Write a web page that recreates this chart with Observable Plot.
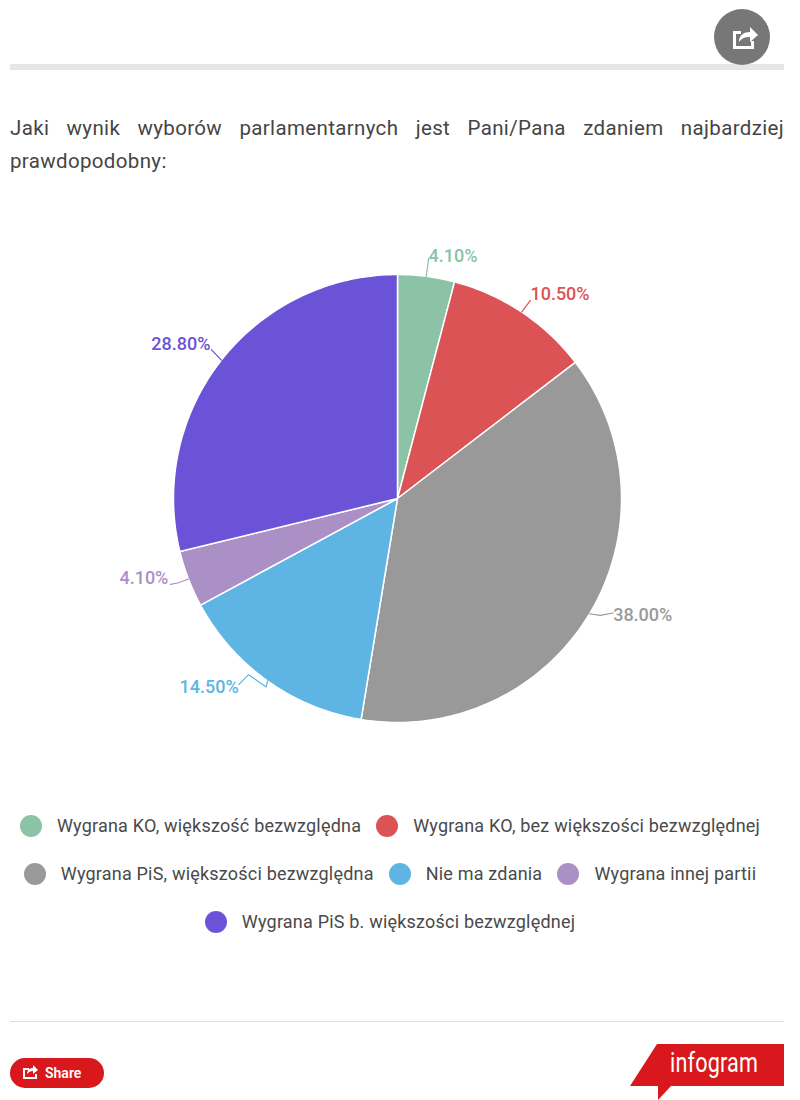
<!DOCTYPE html>
<html lang="pl">
<head>
<meta charset="utf-8">
<script src="https://cdn.jsdelivr.net/npm/d3@7"></script>
<script src="https://cdn.jsdelivr.net/npm/@observablehq/plot@0.6"></script>
<style>
html,body{margin:0;padding:0;background:#fff;}
body{width:800px;height:1100px;position:relative;overflow:hidden;font-family:Roboto,sans-serif;color:#444;}
.abs{position:absolute;}
#title{left:10px;top:112px;width:774px;font-size:20.5px;line-height:33px;text-align:justify;letter-spacing:.35px;color:#454545;}
#chart{left:0;top:190px;}
#chart svg{display:block;overflow:visible;}
.row{position:absolute;left:0;width:780px;height:24px;display:flex;justify-content:center;gap:15px;font-size:18px;letter-spacing:.2px;line-height:24px;color:#4a4a4a;white-space:nowrap;}
.item{display:flex;align-items:center;gap:15px;}
.swatch{width:22px;height:22px;border-radius:50%;flex:none;}
#logo{left:630px;top:1044px;width:154px;height:56px;background:#d8181c;clip-path:polygon(27px 0,154px 0,154px 42px,41px 42px,28px 56px,28px 42px,0 42px);}
#logoText{left:670px;top:1047px;color:#fff;font:400 27px Roboto,sans-serif;transform:scaleX(.8);transform-origin:left top;letter-spacing:.2px;}
#share{left:10px;top:1058px;width:94px;height:30px;border-radius:15px;background:#d8181c;color:#fff;font:600 14px/30px Roboto,sans-serif;}
</style>
</head>
<body>
<div class="abs" style="left:10px;top:64px;width:774px;height:6px;background:#e6e6e6"></div>
<div class="abs" style="left:714px;top:9px;width:56px;height:56px;border-radius:50%;background:#777">
  <svg width="56" height="56" viewBox="0 0 56 56"><path d="M19 22h8v3h-5v12h15v-5h3v8H19z" fill="#fff"/><path d="M25 33c0-7 5-10 11-10v-5l8 8-8 7v-5c-5 0-8 1-11 5z" fill="#fff"/></svg>
</div>
<div id="title" class="abs">Jaki wynik wyborów parlamentarnych jest Pani/Pana zdaniem najbardziej prawdopodobny:</div>
<div id="chart" class="abs"></div>
<div id="legend"></div>
<div class="abs" style="left:10px;top:1021px;width:774px;height:1px;background:#ddd"></div>
<div id="share" class="abs">
  <svg class="abs" style="left:11px;top:5px" width="18" height="18" viewBox="0 0 18 18"><path d="M2 5h6v2H4v7h10v-3h2v5H2z" fill="#fff"/><path d="M6 11c0-4 3-6 6-6V2l5 5-5 4V8c-3 0-4 1-6 3z" fill="#fff"/></svg>
  <span class="abs" style="left:35px">Share</span>
</div>
<div id="logo" class="abs"></div>
<div id="logoText" class="abs">infogram</div>
<script>
const names = ["Wygrana KO, większość bezwzględna","Wygrana KO, bez większości bezwzględnej","Wygrana PiS, większości bezwzględna","Nie ma zdania","Wygrana innej partii","Wygrana PiS b. większości bezwzględnej"];
const shares = [4.1,10.5,38.0,14.5,4.1,28.8];
const labels = ["4.10%","10.50%","38.00%","14.50%","4.10%","28.80%"];
const colors = ["#8cc3a6","#dc5356","#999999","#5eb5e4","#ab90c6","#6b53d8"];
const legendRows = [[0,1],[2,3,4],[5]];

// leader shape per slice: [degrees off the slice's middle, distance in pie radii]
const leaderKnots = [
  [[0,1],[0,1.08]],
  [[0,1],[0.2,1.065]],
  [[0,1],[-1,1.045],[-3,1.09]],
  [[0,1],[-0.6,1.025],[4.75,1.03],[5,1.092]],
  [[0,1],[0,1.047],[0.35,1.084]],
  [[0,1],[0.5,1.064]]
];
const labelAnchor = ["start","start","start","end","end","end"];
const labelNudge = [[0,-2],[0,-6],[0,2],[0,3],[-2,-6],[-1,-5]];

const R = 224, W = 800, H = 600, CX = 397, CY = 308;
const polar = (deg, r) => ({x: r*Math.sin(deg*Math.PI/180), y: r*Math.cos(deg*Math.PI/180)});

const cum = d3.cumsum(shares);
const slices = [], leaders = [], tips = [];
names.forEach((name,i)=>{
  const a0 = (cum[i]-shares[i])*3.6, a1 = cum[i]*3.6, mid = (a0+a1)/2;
  slices.push({name, ...polar(0,0)});
  const n = Math.max(2, Math.ceil(a1-a0));
  for (let k=0;k<=n;k++) slices.push({name, ...polar(a0+(a1-a0)*k/n,1)});
  slices.push({name, ...polar(0,0)});
  leaderKnots[i].forEach(([d,r])=>leaders.push({name, ...polar(mid+d,r)}));
  const [ld,lr] = leaderKnots[i][leaderKnots[i].length-1];
  tips.push({name, label:labels[i], ...polar(mid+ld,lr)});
});

const marks = [
  Plot.line(slices,{x:"x",y:"y",z:"name",fill:"name",stroke:"#fff",strokeWidth:1.5,strokeLinejoin:"round"}),
  Plot.line(leaders,{x:"x",y:"y",z:"name",stroke:"name",strokeWidth:1.2})
];
tips.forEach((t,i)=>marks.push(Plot.text([t],{x:"x",y:"y",text:"label",fill:"name",textAnchor:labelAnchor[i],dx:labelNudge[i][0],dy:labelNudge[i][1],fontSize:18,fontWeight:500})));

const chart = Plot.plot({
  width:W,height:H,margin:0,
  style:{fontFamily:"Roboto, sans-serif",background:"transparent"},
  x:{domain:[-CX/R,(W-CX)/R],range:[0,W],axis:null},
  y:{domain:[-(H-CY)/R,CY/R],range:[H,0],axis:null},
  color:{domain:names,range:colors},
  marks
});
document.getElementById("chart").appendChild(chart);

const legend = document.getElementById("legend");
legendRows.forEach((row,ri)=>{
  const r = document.createElement("div");
  r.className="row"; r.style.top=(814+48*ri)+"px";
  row.forEach(i=>{
    const it=document.createElement("div"); it.className="item";
    const s=document.createElement("span"); s.className="swatch"; s.style.background=colors[i];
    const t=document.createElement("span"); t.textContent=names[i];
    it.append(s,t); r.append(it);
  });
  legend.append(r);
});
</script>
</body>
</html>
